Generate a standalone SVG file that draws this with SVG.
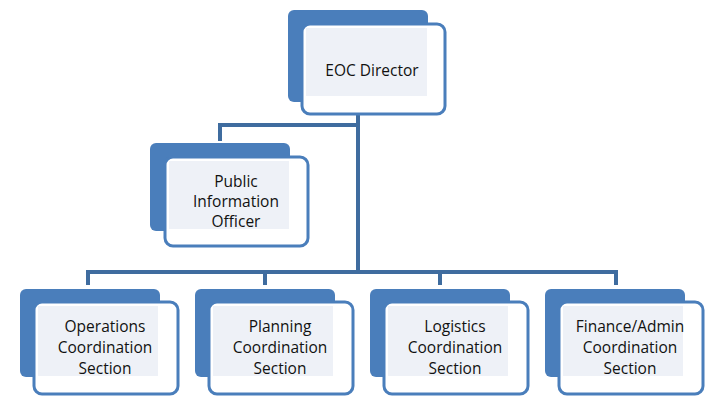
<svg xmlns="http://www.w3.org/2000/svg" width="720" height="404" viewBox="0 0 720 404">
<style>
.bk{fill:#4a7ebb}
.fr{fill:#fff;stroke:#4a7ebb;stroke-width:3}
.in{fill:#eef1f7}
.c{fill:none;stroke:#3f6c9f;stroke-width:4}
text{font-family:"Open Sans","Liberation Sans",sans-serif;font-size:15.5px;fill:#111;text-anchor:middle}
</style>
<g id="connectors">
<path class="c" d="M358 100V272M358 125H220V141M88 285V272H616V285M265 272V285M440 272V285"/>
</g>
<g id="eoc">
<rect class="bk" x="288" y="10" width="140" height="92" rx="6"/>
<rect class="fr" x="302" y="24" width="143" height="90" rx="8"/>
<rect class="in" x="306" y="28" width="121" height="68"/>
<text x="372" y="76">EOC Director</text>
</g>
<g id="pio">
<rect class="bk" x="150" y="143" width="140" height="88" rx="6"/>
<rect class="fr" x="165" y="157" width="143" height="89" rx="8"/>
<rect class="in" x="169" y="161" width="120" height="68"/>
<text x="236" y="187">Public</text><text x="236" y="207">Information</text><text x="236" y="227">Officer</text>
</g>
<g id="ops">
<rect class="bk" x="20" y="289" width="140" height="88" rx="6"/>
<rect class="fr" x="34" y="302" width="144" height="92" rx="8"/>
<rect class="in" x="38" y="306" width="120" height="70"/>
<text x="105" y="332">Operations</text><text x="105" y="353">Coordination</text><text x="105" y="374">Section</text>
</g>
<g id="plan">
<rect class="bk" x="195" y="289" width="140" height="88" rx="6"/>
<rect class="fr" x="209" y="302" width="144" height="92" rx="8"/>
<rect class="in" x="213" y="306" width="120" height="70"/>
<text x="280" y="332">Planning</text><text x="280" y="353">Coordination</text><text x="280" y="374">Section</text>
</g>
<g id="log">
<rect class="bk" x="370" y="289" width="140" height="88" rx="6"/>
<rect class="fr" x="384" y="302" width="144" height="92" rx="8"/>
<rect class="in" x="388" y="306" width="120" height="70"/>
<text x="455" y="332">Logistics</text><text x="455" y="353">Coordination</text><text x="455" y="374">Section</text>
</g>
<g id="fin">
<rect class="bk" x="545" y="289" width="140" height="88" rx="6"/>
<rect class="fr" x="559" y="302" width="144" height="92" rx="8"/>
<rect class="in" x="563" y="306" width="120" height="70"/>
<text x="630" y="332">Finance/Admin</text><text x="630" y="353">Coordination</text><text x="630" y="374">Section</text>
</g>
</svg>
